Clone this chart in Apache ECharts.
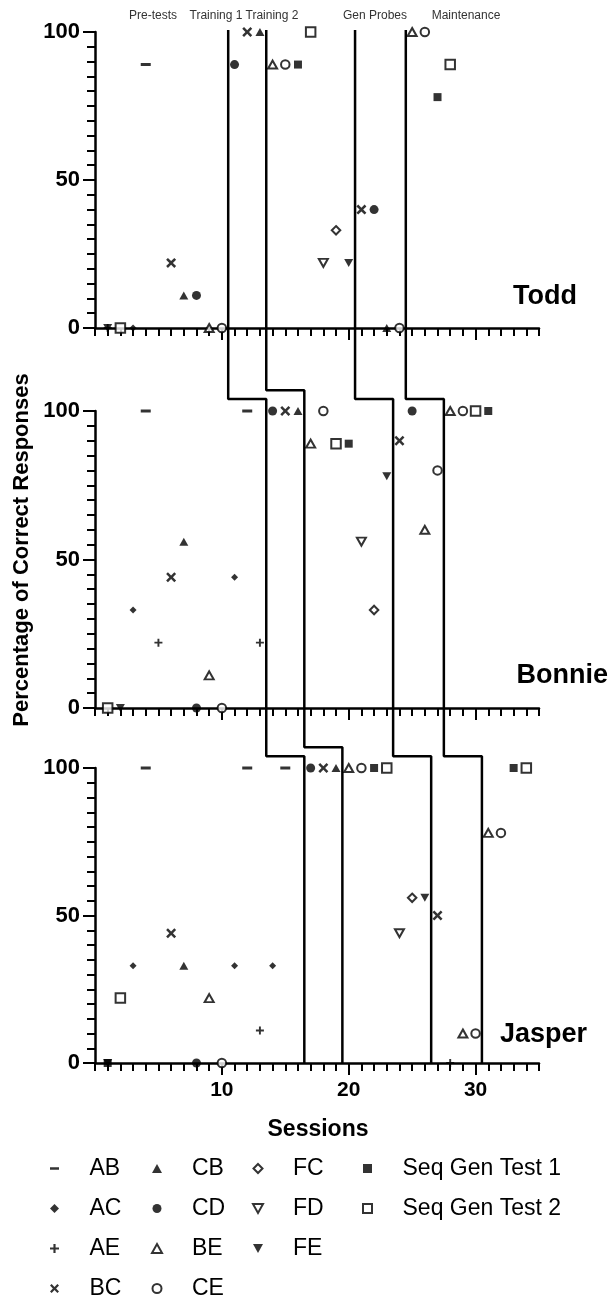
<!DOCTYPE html>
<html><head><meta charset="utf-8">
<script src="https://cdn.jsdelivr.net/npm/echarts@6/dist/echarts.min.js"></script>
<style>html,body{margin:0;padding:0;background:#fff}#c{width:614px;height:1309px}</style>
</head><body><div id="c"></div>
<script>
// ---------- DATA ----------
const categories = ['AB','AC','AE','BC','CB','CD','BE','CE','FC','FD','FE','Seq Gen Test 1','Seq Gen Test 2'];
const participants = ['Todd','Bonnie','Jasper'];
const phaseLabels = ['Pre-tests','Training 1','Training 2','Gen Probes','Maintenance'];
const yTickLabels = [0, 50, 100];
const xTickLabels = [10, 20, 30];

// Todd  [session, % correct]
const toddAB = [[4,89]];
const toddAC = [[3,0]];
const toddAE = [[1,0]];
const toddBC = [[6,22],[12,100],[21,40]];
const toddCB = [[7,11],[13,100],[23,0]];
const toddCD = [[8,11],[11,89],[22,40]];
const toddBE = [[9,0],[14,89],[25,100]];
const toddCE = [[10,0],[15,89],[24,0],[26,100]];
const toddFC = [[19,33]];
const toddFD = [[18,22]];
const toddFE = [[1,0],[20,22]];
const toddS1 = [[16,89],[27,78]];
const toddS2 = [[2,0],[17,100],[28,89]];

// Bonnie
const bonnieAB = [[4,100],[12,100]];
const bonnieAC = [[3,33],[11,44]];
const bonnieAE = [[5,22],[13,22]];
const bonnieBC = [[6,44],[15,100],[24,90]];
const bonnieCB = [[7,56],[16,100]];
const bonnieCD = [[8,0],[14,100],[25,100]];
const bonnieBE = [[9,11],[17,89],[26,60],[28,100]];
const bonnieCE = [[10,0],[18,100],[27,80],[29,100]];
const bonnieFC = [[22,33]];
const bonnieFD = [[21,56]];
const bonnieFE = [[2,0],[23,78]];
const bonnieS1 = [[20,89],[31,100]];
const bonnieS2 = [[1,0],[19,89],[30,100]];

// Jasper
const jasperAB = [[4,100],[12,100],[15,100]];
const jasperAC = [[3,33],[11,33],[14,33]];
const jasperAE = [[13,11],[28,0]];
const jasperBC = [[6,44],[18,100],[27,50]];
const jasperCB = [[7,33],[19,100]];
const jasperCD = [[8,0],[17,100]];
const jasperBE = [[9,22],[20,100],[29,10],[31,78]];
const jasperCE = [[10,0],[21,100],[30,10],[32,78]];
const jasperFC = [[25,56]];
const jasperFD = [[24,44]];
const jasperFE = [[1,0],[26,56]];
const jasperS1 = [[1,0],[22,100],[33,100]];
const jasperS2 = [[2,22],[23,100],[34,100]];

// phase-change lines (session boundaries) and step heights (in the lower panel's % units)
const toddPhases = [10.5, 13.5, 20.5, 24.5];
const bonniePhases = [13.5, 16.5, 23.5, 27.5];
const jasperPhases = [16.5, 19.5, 26.5, 30.5];
const bonnieSteps = [104, 107, 104, 104];
const jasperSteps = [104, 107, 104, 104];

// ---------- LAYOUT / STYLE ----------
const FONT = '"Liberation Sans", Arial, Helvetica, sans-serif';
const grids = [
  {left: 95, top: 32, width: 444, height: 296},
  {left: 95, top: 411, width: 444, height: 297},
  {left: 95, top: 768, width: 444, height: 295}
];
const FILL_BOX = ' M0,0h0.01v0.01h-0.01Z M9.99,9.99h0.01v0.01h-0.01Z';
const P = {
  dash: 'path://M0,3.5H10V6.5H0Z' + FILL_BOX,
  diamond: 'path://M5,0L10,5L5,10L0,5Z',
  plus: 'path://M3.8,0H6.2V3.8H10V6.2H6.2V10H3.8V6.2H0V3.8H3.8Z',
  cross: 'path://M1.8,0L5,3.2L8.2,0L10,1.8L6.8,5L10,8.2L8.2,10L5,6.8L1.8,10L0,8.2L3.2,5L0,1.8Z',
  up: 'path://M5,0L10,9L0,9Z',
  down: 'path://M0,0L10,0L5,9Z',
  circle: 'path://M10,5A5,5,0,1,1,0,5A5,5,0,1,1,10,5Z',
  square: 'path://M0,0H10V10H0Z'
};
const filled = {color: '#000', borderWidth: 0};
const open = {color: '#fff', borderColor: '#000', borderWidth: 2};
const symbolStyle = {
  'AB': {symbol: P.dash, size: 10, style: filled},
  'AC': {symbol: P.diamond, size: 7, style: filled},
  'AE': {symbol: P.plus, size: 8, style: filled},
  'BC': {symbol: P.cross, size: 10, style: filled},
  'CB': {symbol: P.up, size: [9, 8], style: filled},
  'CD': {symbol: P.circle, size: 9, style: filled},
  'BE': {symbol: P.up, size: [9, 8], style: open},
  'CE': {symbol: P.circle, size: 8.5, style: open},
  'FC': {symbol: P.diamond, size: 8.5, style: open},
  'FD': {symbol: P.down, size: [9, 8], style: open},
  'FE': {symbol: P.down, size: [9, 8], style: filled},
  'Seq Gen Test 1': {symbol: P.square, size: 8, style: filled},
  'Seq Gen Test 2': {symbol: P.square, size: 9.5, style: open}
};

const panelData = [
  [toddAB, toddAC, toddAE, toddBC, toddCB, toddCD, toddBE, toddCE, toddFC, toddFD, toddFE, toddS1, toddS2],
  [bonnieAB, bonnieAC, bonnieAE, bonnieBC, bonnieCB, bonnieCD, bonnieBE, bonnieCE, bonnieFC, bonnieFD, bonnieFE, bonnieS1, bonnieS2],
  [jasperAB, jasperAC, jasperAE, jasperBC, jasperCB, jasperCD, jasperBE, jasperCE, jasperFC, jasperFD, jasperFE, jasperS1, jasperS2]
];
const panelPhases = [toddPhases, bonniePhases, jasperPhases];
const panelSteps = [null, bonnieSteps, jasperSteps];

const axisLineStyle = {color: '#000', width: 2.5};
const tickStyle = {color: '#000', width: 2};
const xAxes = [], yAxes = [], series = [];
grids.forEach((g, p) => {
  // x: main axis (1-session ticks) + overlay for the long ticks at 10/20/30
  xAxes.push({
    type: 'value', gridIndex: p, min: 0, max: 35, interval: 1,
    axisLine: {show: true, onZero: false, lineStyle: axisLineStyle},
    axisTick: {show: true, length: 8, lineStyle: tickStyle},
    axisLabel: {show: p === 2, formatter: v => xTickLabels.includes(v) ? String(v) : '',
      fontSize: 21, fontWeight: 'bold', color: '#000', fontFamily: FONT, margin: 17},
    splitLine: {show: false}
  });
  xAxes.push({
    type: 'value', gridIndex: p, min: 0, max: 35, position: 'bottom',
    axisLine: {show: false},
    axisTick: {show: true, customValues: xTickLabels, length: 12, lineStyle: tickStyle},
    axisLabel: {show: false},
    splitLine: {show: false}
  });
  // y: main axis (5% ticks) + overlay for the long ticks at 0/50/100
  yAxes.push({
    type: 'value', gridIndex: p, min: 0, max: 100, interval: 5,
    axisLine: {show: true, onZero: false, lineStyle: axisLineStyle},
    axisTick: {show: true, length: 8, lineStyle: tickStyle},
    axisLabel: {formatter: v => yTickLabels.includes(v) ? String(v) : '',
      fontSize: 22, fontWeight: 'bold', color: '#000', fontFamily: FONT, margin: 15},
    splitLine: {show: false}
  });
  yAxes.push({
    type: 'value', gridIndex: p, min: 0, max: 100, position: 'left',
    axisLine: {show: false},
    axisTick: {show: true, customValues: yTickLabels, length: 12, lineStyle: tickStyle},
    axisLabel: {show: false},
    splitLine: {show: false}
  });
  // phase lines
  panelPhases[p].forEach((x, i) => {
    let pts;
    if (p === 0) {
      pts = [[x, 100.7], [x, 0]];
    } else {
      const prevG = grids[p - 1];
      const upper = 100 + (g.top - (prevG.top + prevG.height)) / g.height * 100;
      const xu = panelPhases[p - 1][i];
      const st = panelSteps[p][i];
      pts = [[xu, upper], [xu, st], [x, st], [x, 0]];
    }
    series.push({
      type: 'line', xAxisIndex: p * 2, yAxisIndex: p * 2, data: pts, symbol: 'none',
      clip: false, silent: true, z: 2, animation: false,
      lineStyle: {color: '#000', width: 2.5}
    });
  });
  categories.forEach((cat, c) => {
    const s = symbolStyle[cat];
    series.push({
      type: 'scatter', name: cat, xAxisIndex: p * 2, yAxisIndex: p * 2,
      data: panelData[p][c], symbol: s.symbol, symbolSize: s.size,
      itemStyle: Object.assign({}, s.style), clip: false, z: 3, silent: true
    });
  });
});

const legendCols = [
  {data: ['AB','AC','AE','BC'], left: 50},
  {data: ['CB','CD','BE','CE'], left: 151},
  {data: ['FC','FD','FE'], left: 252},
  {data: ['Seq Gen Test 1','Seq Gen Test 2'], left: 362}
];
const legends = legendCols.map(col => ({
  data: col.data, left: col.left, top: 1157, orient: 'vertical', padding: 0,
  itemWidth: 60, itemHeight: 9, itemGap: 17, selectedMode: false,
  itemStyle: {borderWidth: 'inherit'},
  textStyle: {fontSize: 23, color: '#000', fontFamily: FONT, lineHeight: 23}
}));

const phaseLabelX = [153, 216, 272, 375, 466];
const graphic = [];
phaseLabels.forEach((t, i) => graphic.push({
  type: 'text', x: phaseLabelX[i], y: 16,
  style: {text: t, fontSize: 12, fontFamily: FONT, fill: '#333', align: 'center', verticalAlign: 'middle'}
}));
const nameRight = [577, 608, 587];
const nameY = [297, 676, 1035];
participants.forEach((t, i) => graphic.push({
  type: 'text', x: nameRight[i], y: nameY[i],
  style: {text: t, fontSize: 27, fontWeight: 'bold', fontFamily: FONT, fill: '#000', align: 'right', verticalAlign: 'middle'}
}));
graphic.push({
  type: 'text', x: 318, y: 1130,
  style: {text: 'Sessions', fontSize: 23, fontWeight: 'bold', fontFamily: FONT, fill: '#000', align: 'center', verticalAlign: 'middle'}
});
graphic.push({
  type: 'text', x: 22, y: 550, rotation: Math.PI / 2,
  style: {text: 'Percentage of Correct Responses', fontSize: 22, fontWeight: 'bold', fontFamily: FONT, fill: '#000', align: 'center', verticalAlign: 'middle'}
});

const chart = echarts.init(document.getElementById('c'), null, {renderer: 'canvas'});
chart.setOption({
  animation: false,
  backgroundColor: '#fff',
  grid: grids,
  xAxis: xAxes,
  yAxis: yAxes,
  legend: legends,
  series: series,
  graphic: graphic
});
</script>
</body></html>
